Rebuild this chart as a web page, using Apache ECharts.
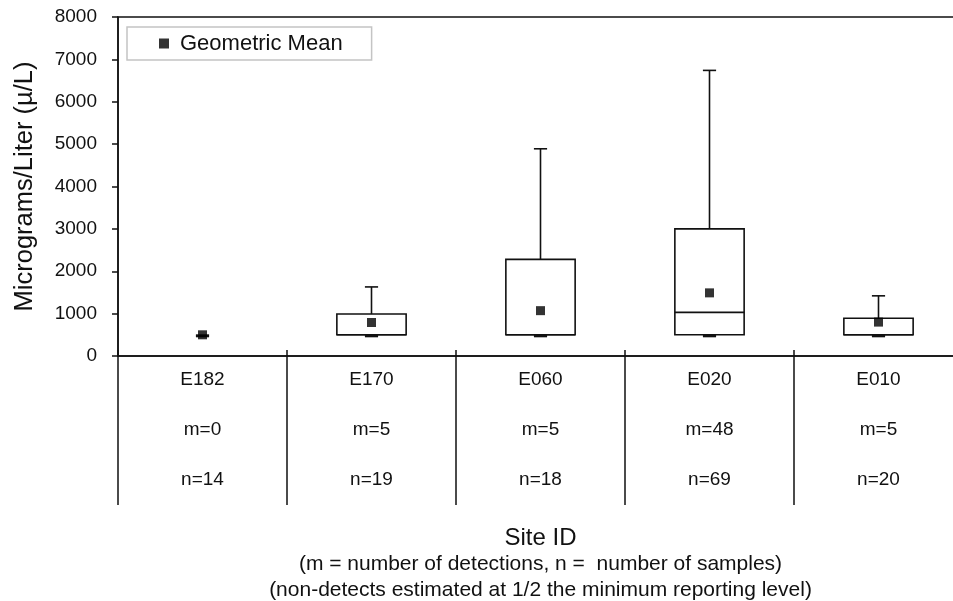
<!DOCTYPE html>
<html>
<head>
<meta charset="utf-8">
<title>Concentrations by Site</title>
<script src="https://cdn.jsdelivr.net/npm/echarts@6/dist/echarts.min.js"></script>
<style>
  html, body { margin: 0; padding: 0; background: #fff; overflow: hidden; }
  #chart { width: 963px; height: 601px; }
</style>
</head>
<body>
<div id="chart"></div>
<script>
// Site IDs and counts shown under each box
const sites = ['E182', 'E170', 'E060', 'E020', 'E010'];
const detections = [0, 5, 5, 48, 5];
const samples = [14, 19, 18, 69, 20];

// Box statistics per site (µg/L)
const minValues = [500, 500, 500, 500, 500];
const q1Values = [500, 500, 500, 500, 500];
const medianValues = [500, 500, 500, 1030, 500];
const q3Values = [500, 990, 2280, 3000, 890];
const maxValues = [500, 1630, 4890, 6740, 1420];
const geoMeans = [500, 790, 1070, 1490, 800];

// Y axis ticks
const yMin = 0;
const yMax = 8000;
const yStep = 1000;

const FONT = '"Liberation Sans", Arial, sans-serif';
const INK = '#111';

const boxData = sites.map((s, i) => [i, minValues[i], q1Values[i], medianValues[i], q3Values[i], maxValues[i]]);
const meanData = sites.map((s, i) => [i, geoMeans[i]]);

function renderBox(params, api) {
  const idx = api.value(0);
  const lo = api.coord([idx, api.value(1)]);
  const q1 = api.coord([idx, api.value(2)]);
  const md = api.coord([idx, api.value(3)]);
  const q3 = api.coord([idx, api.value(4)]);
  const hi = api.coord([idx, api.value(5)]);
  const band = api.size([1, 0])[0];
  const bw = band * 0.41;
  const cw = band * 0.078;
  const cx = lo[0];
  const stroke = { stroke: INK, lineWidth: 1.6, fill: null };
  const children = [];
  if (api.value(4) > api.value(2)) {
    children.push({ type: 'rect', shape: { x: cx - bw / 2, y: q3[1], width: bw, height: q1[1] - q3[1] }, style: { stroke: INK, lineWidth: 1.6, fill: '#fff' } });
    children.push({ type: 'line', shape: { x1: cx - bw / 2, y1: md[1], x2: cx + bw / 2, y2: md[1] }, style: stroke });
  }
  if (api.value(5) > api.value(4)) {
    children.push({ type: 'line', shape: { x1: cx, y1: q3[1], x2: cx, y2: hi[1] }, style: stroke });
    children.push({ type: 'line', shape: { x1: cx - cw / 2, y1: hi[1], x2: cx + cw / 2, y2: hi[1] }, style: stroke });
  }
  // lower whisker end, sitting on the reporting-level floor
  children.push({ type: 'line', shape: { x1: cx - cw / 2, y1: lo[1] + 1, x2: cx + cw / 2, y2: lo[1] + 1 }, style: { stroke: INK, lineWidth: 3 } });
  return { type: 'group', children };
}

const chart = echarts.init(document.getElementById('chart'), null, { renderer: 'canvas' });

chart.setOption({
  animation: false,
  backgroundColor: '#fff',
  textStyle: { fontFamily: FONT },
  grid: {
    left: 118, right: 0, top: 17, bottom: 245,
    containLabel: false,
    outerBoundsMode: 'none',
    show: true, borderColor: INK, borderWidth: 1.5, backgroundColor: 'transparent'
  },
  legend: {
    data: ['Geometric Mean'],
    left: 127, top: 27,
    padding: [5, 29, 5, 32],
    borderColor: '#c4c4c4', borderWidth: 1.5,
    backgroundColor: '#fff',
    icon: 'rect', itemWidth: 10, itemHeight: 10,
    textStyle: { fontFamily: FONT, fontSize: 22, color: INK, lineHeight: 23, padding: [0, 0, 0, 6] }
  },
  xAxis: [
    {
      type: 'category',
      data: sites,
      position: 'bottom',
      boundaryGap: true,
      axisLine: { show: true, lineStyle: { color: INK, width: 1.5 } },
      axisTick: { show: true, inside: false, length: 149, lineStyle: { color: INK, width: 1.5 } },
      axisLabel: {
        margin: 11,
        fontSize: 19,
        lineHeight: 25,
        color: INK,
        fontFamily: FONT,
        formatter: (v, i) => v + '\n\nm=' + detections[i] + '\n\nn=' + samples[i]
      },
      splitLine: { show: false }
    },
    {
      type: 'category',
      data: sites,
      position: 'bottom',
      boundaryGap: true,
      axisLine: { show: false },
      axisTick: { show: true, inside: true, length: 6, lineStyle: { color: INK, width: 1.5 } },
      axisLabel: { show: false },
      name: '{t|Site ID}\n{s|(m = number of detections, n =  number of samples)}\n{s|(non-detects estimated at 1/2 the minimum reporting level)}',
      nameLocation: 'middle',
      nameGap: 169,
      nameTextStyle: {
        color: INK,
        fontFamily: FONT,
        rich: {
          t: { fontSize: 24, lineHeight: 26, color: INK, fontFamily: FONT },
          s: { fontSize: 21, lineHeight: 26, color: INK, fontFamily: FONT }
        }
      },
      splitLine: { show: false }
    }
  ],
  yAxis: {
    type: 'value',
    min: yMin, max: yMax, interval: yStep,
    name: 'Micrograms/Liter (µ/L)',
    nameLocation: 'middle',
    nameRotate: 90,
    nameGap: 80,
    nameTextStyle: { fontSize: 25.5, color: INK, fontFamily: FONT },
    axisLine: { show: true, lineStyle: { color: INK, width: 1.5 } },
    axisTick: { show: true, inside: false, length: 6, lineStyle: { color: INK, width: 1.5 } },
    axisLabel: { margin: 21, fontSize: 19, color: INK, fontFamily: FONT, formatter: (v) => String(v) },
    splitLine: { show: false }
  },
  series: [
    {
      type: 'custom',
      name: 'Box',
      xAxisIndex: 0,
      renderItem: renderBox,
      encode: { x: 0, y: [1, 2, 3, 4, 5] },
      data: boxData,
      z: 2
    },
    {
      type: 'scatter',
      name: 'Geometric Mean',
      xAxisIndex: 0,
      symbol: 'rect',
      symbolSize: 9,
      itemStyle: { color: '#000' },
      data: meanData,
      z: 5
    }
  ]
});
</script>
</body>
</html>
